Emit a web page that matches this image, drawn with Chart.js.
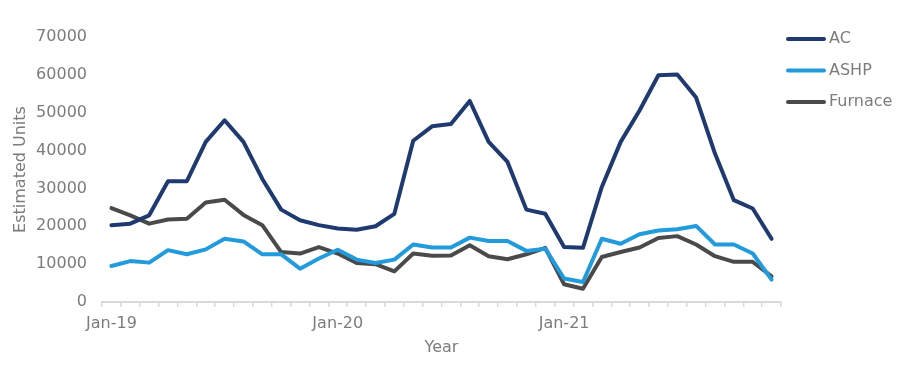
<!DOCTYPE html>
<html>
<head>
<meta charset="utf-8">
<title>Estimated Units</title>
<script src="https://cdn.jsdelivr.net/npm/chart.js@4/dist/chart.umd.min.js"></script>
<style>
  html, body { margin: 0; padding: 0; background: #ffffff; }
  canvas { display: block; }
</style>
</head>
<body>
<canvas id="chart" width="922" height="376"></canvas>
<script>
// Monthly categories, Jan-19 .. Dec-21
const months = [
    'Jan-19', 'Feb-19', 'Mar-19', 'Apr-19', 'May-19', 'Jun-19', 'Jul-19', 'Aug-19', 'Sep-19', 'Oct-19', 'Nov-19', 'Dec-19',
    'Jan-20', 'Feb-20', 'Mar-20', 'Apr-20', 'May-20', 'Jun-20', 'Jul-20', 'Aug-20', 'Sep-20', 'Oct-20', 'Nov-20', 'Dec-20',
    'Jan-21', 'Feb-21', 'Mar-21', 'Apr-21', 'May-21', 'Jun-21', 'Jul-21', 'Aug-21', 'Sep-21', 'Oct-21', 'Nov-21', 'Dec-21'
];

const acUnits = [
    20300, 20700, 22900, 31900, 31900, 42300, 48000, 42300, 32500, 24400, 21600, 20300,
    19400, 19100, 20000, 23300, 42600, 46400, 47000, 53100, 42300, 37000, 24400, 23300,
    14500, 14300, 30400, 42300, 50600, 59900, 60100, 54000, 39200, 26900, 24700, 16700
];

const ashpUnits = [
    9500, 10800, 10400, 13700, 12600, 13900, 16700, 16000, 12600, 12600, 8800, 11500,
    13800, 11200, 10300, 11200, 15200, 14400, 14400, 17000, 16100, 16100, 13500, 14100,
    6200, 5300, 16700, 15400, 17900, 18900, 19200, 20100, 15200, 15200, 12800, 5900
];

const furnaceUnits = [
    24800, 22900, 20700, 21800, 22000, 26300, 27000, 23000, 20300, 13200, 12800, 14500,
    12800, 10300, 10000, 8100, 12800, 12200, 12300, 15000, 12100, 11300, 12600, 14300,
    4700, 3500, 11900, 13200, 14400, 16900, 17400, 15200, 12100, 10600, 10600, 6800
];

const yTicks = [0, 10000, 20000, 30000, 40000, 50000, 60000, 70000];

const FONT = 'DejaVu Sans';
const TEXT_GREY = '#7c7c7c';
const AXIS_GREY = '#d9d9d9';

function lineSet(label, data, color) {
    return {
        label: label,
        data: data,
        borderColor: color,
        backgroundColor: color,
        borderWidth: 4,
        borderJoinStyle: 'round',
        borderCapStyle: 'round',
        pointRadius: 0,
        tension: 0,
        fill: false
    };
}

// Legend drawn at the right, line sample + label per dataset
const sideLegend = {
    id: 'sideLegend',
    afterDraw(chart) {
        const ctx = chart.ctx;
        ctx.save();
        ctx.font = '16px ' + FONT;
        ctx.textBaseline = 'middle';
        ctx.textAlign = 'left';
        chart.data.datasets.forEach((ds, i) => {
            const y = 39 + i * 31.5;
            ctx.strokeStyle = ds.borderColor;
            ctx.lineWidth = 4;
            ctx.lineCap = 'round';
            ctx.beginPath();
            ctx.moveTo(788, y);
            ctx.lineTo(824, y);
            ctx.stroke();
            ctx.fillStyle = TEXT_GREY;
            ctx.fillText(ds.label, 829, y);
        });
        ctx.restore();
    }
};

const config = {
    type: 'line',
    data: {
        labels: months,
        datasets: [
            lineSet('AC', acUnits, '#1f3a70'),
            lineSet('ASHP', ashpUnits, '#229bdc'),
            lineSet('Furnace', furnaceUnits, '#4a4a4a')
        ]
    },
    options: {
        responsive: false,
        animation: false,
        devicePixelRatio: 1,
        layout: { padding: { top: 37, right: 141, bottom: 0, left: 0 } },
        plugins: {
            legend: { display: false },
            tooltip: { enabled: false }
        },
        scales: {
            x: {
                offset: true,
                grid: {
                    display: true,
                    offset: true,
                    drawOnChartArea: false,
                    drawTicks: true,
                    tickLength: 5,
                    color: AXIS_GREY,
                    lineWidth: 1.5
                },
                border: { display: true, color: AXIS_GREY, width: 2 },
                ticks: {
                    autoSkip: false,
                    maxRotation: 0,
                    padding: 7,
                    color: TEXT_GREY,
                    font: { family: FONT, size: 16 },
                    callback: function (value, index) {
                        return index % 12 === 0 ? this.getLabelForValue(value) : '';
                    }
                },
                title: {
                    display: true,
                    text: 'Year',
                    color: TEXT_GREY,
                    font: { family: FONT, size: 16 },
                    padding: { top: 0, bottom: 19 }
                },
                afterFit: (scale) => { scale.height = 74; }
            },
            y: {
                min: yTicks[0],
                max: yTicks[yTicks.length - 1],
                grid: { display: false, drawTicks: false },
                border: { display: false },
                afterBuildTicks: (scale) => { scale.ticks = yTicks.map(v => ({ value: v })); },
                ticks: {
                    padding: 15,
                    color: TEXT_GREY,
                    font: { family: FONT, size: 16 },
                    callback: (v) => String(v)
                },
                title: {
                    display: true,
                    text: 'Estimated Units',
                    color: TEXT_GREY,
                    font: { family: FONT, size: 16 },
                    padding: { top: 11, bottom: 0 }
                },
                afterFit: (scale) => { scale.width = 102; }
            }
        }
    },
    plugins: [sideLegend]
};

new Chart(document.getElementById('chart').getContext('2d'), config);
</script>
</body>
</html>
